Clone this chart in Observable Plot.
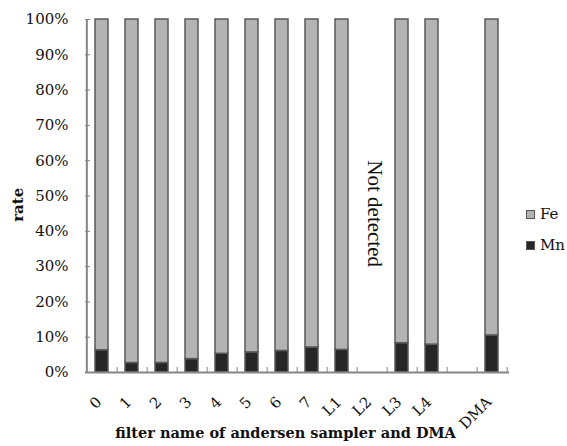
<!DOCTYPE html>
<html>
<head>
<meta charset="utf-8">
<script src="https://cdn.jsdelivr.net/npm/d3@7"></script>
<script src="https://cdn.jsdelivr.net/npm/@observablehq/plot@0.6"></script>
<style>
  html, body { margin: 0; padding: 0; background: #fff; }
  #wrap { position: relative; width: 567px; height: 446px; }
  #legend { position: absolute; left: 526px; top: 205px; font-family: "DejaVu Serif", serif; font-size: 15px; color: #111; }
  #legend .row { display: flex; align-items: center; height: 18px; margin-bottom: 13px; }
  #legend .sw { width: 7px; height: 7px; border: 1px solid #555; margin-right: 5px; }
</style>
</head>
<body>
<div id="wrap"></div>
<script>
// ---- data ----
const categories = ["0","1","2","3","4","5","6","7","L1","L2","L3","L4","gap","DMA"];
const tickLabels = ["0","1","2","3","4","5","6","7","L1","L2","L3","L4","","DMA"];
const mnPercent = [6.3, 2.7, 2.7, 3.8, 5.3, 5.7, 6.1, 7.1, 6.4, null, 8.3, 7.9, null, 10.5];
const elements = ["Fe", "Mn"];
const elementColors = ["#b3b3b3", "#262626"];
const yTicks = [0, 0.1, 0.2, 0.3, 0.4, 0.5, 0.6, 0.7, 0.8, 0.9, 1.0];
const annotationText = ["Not detected"];
const annotationCategory = "L2";
const annotationValue = 0.45;
const xTitle = "filter name of andersen sampler and DMA";
const yTitle = "rate";
const yTitleValue = 0.475;

// ---- derived table ----
const rows = [];
categories.forEach((c, i) => {
  const m = mnPercent[i];
  if (m == null) return;
  rows.push({cat: c, element: "Mn", rate: m / 100});
  rows.push({cat: c, element: "Fe", rate: 1 - m / 100});
});

const W = 567, H = 446;
const mL = 85, mR = 58, mT = 19, mB = 74;
const plotW = W - mL - mR, plotH = H - mT - mB;
const step = plotW / categories.length;
const tickLen = 5 / plotH; // 5px inside tick in y units
const axisColor = "#868686";
const serif = "DejaVu Serif, serif";

const chart = Plot.plot({
  width: W, height: H,
  marginLeft: mL, marginRight: mR, marginTop: mT, marginBottom: mB,
  style: {fontFamily: serif, color: "#111", background: "#fff"},
  x: {type: "band", domain: categories, paddingInner: 0.56, paddingOuter: 0.28},
  y: {domain: [0, 1]},
  color: {domain: elements, range: elementColors},
  marks: [
    Plot.axisY({ticks: yTicks, tickFormat: d3.format(".0%"), tickSize: 0, tickPadding: 17, fontSize: 15, label: null}),
    Plot.axisX({tickFormat: (d) => tickLabels[categories.indexOf(d)], tickSize: 0, tickPadding: 27, tickRotate: -45, fontSize: 15, dx: -3, label: null}),
    Plot.barY(rows, {x: "cat", y: "rate", fill: "element", z: "element", stroke: "#5a5a5a", strokeWidth: 1.5}),
    // inside y tick marks
    Plot.ruleY(yTicks.slice(1), {stroke: axisColor, strokeWidth: 1, insetRight: plotW - 5}),
    // inside x tick marks at category boundaries
    Plot.ruleX(categories, {y1: () => 0, y2: () => tickLen, dx: step / 2, stroke: axisColor, strokeWidth: 1}),
    // axis lines
    Plot.ruleX([categories[0]], {y1: () => 0, y2: () => 1, dx: -step / 2, stroke: axisColor, strokeWidth: 2}),
    Plot.ruleY([0], {stroke: axisColor, strokeWidth: 2}),
    // annotation
    Plot.text(annotationText, {x: () => annotationCategory, y: () => annotationValue, text: d => d, rotate: 90, fontSize: 21, fontFamily: "Liberation Serif, serif", dx: 3, fill: "#111"}),
    // titles
    Plot.text([xTitle], {frameAnchor: "bottom", text: d => d, dy: 65, dx: -12, fontSize: 14.5, fontWeight: "bold", fill: "#111"}),
    Plot.text([yTitle], {frameAnchor: "left", y: () => yTitleValue, text: d => d, rotate: -90, textAnchor: "middle", dx: -67, fontSize: 15, fontWeight: "bold", fill: "#111"})
  ]
});

const wrap = document.getElementById("wrap");
wrap.appendChild(chart);

// legend (Fe above Mn)
const legend = document.createElement("div");
legend.id = "legend";
elements.forEach((e, i) => {
  const row = document.createElement("div");
  row.className = "row";
  const sw = document.createElement("span");
  sw.className = "sw";
  sw.style.background = elementColors[i];
  const lab = document.createElement("span");
  lab.textContent = e;
  row.appendChild(sw);
  row.appendChild(lab);
  legend.appendChild(row);
});
wrap.appendChild(legend);
</script>
</body>
</html>
